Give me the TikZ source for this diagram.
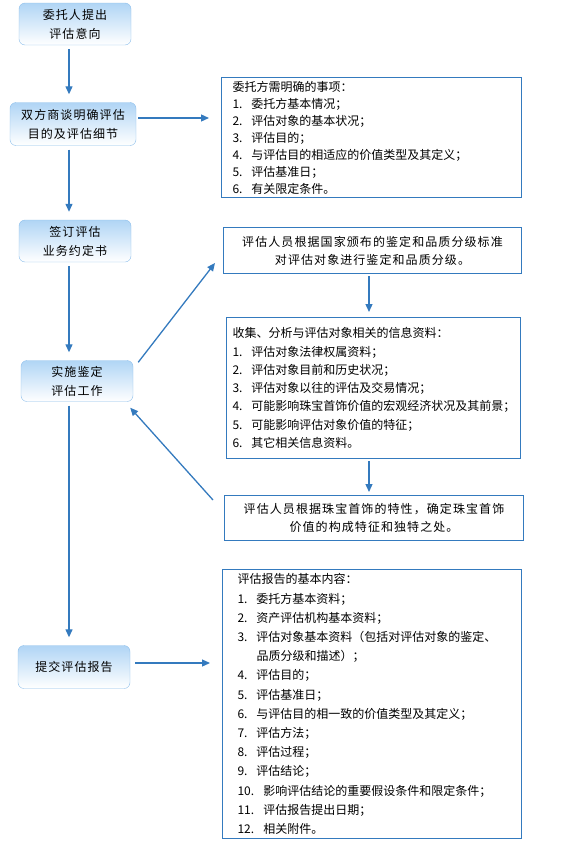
\documentclass[tikz,border=0pt]{standalone}
\usepackage{fontspec}
\setmainfont{Noto Sans CJK SC}
\newfontfamily\widecjk[LetterSpace=9]{Noto Sans CJK SC}
\usetikzlibrary{arrows.meta}

\definecolor{lineblue}{RGB}{52,122,190}
\definecolor{boxedge}{RGB}{140,190,235}
\definecolor{boxtop}{RGB}{176,213,245}

\newcommand{\itemno}[2][19pt]{\makebox[#1][l]{#2}}

\begin{document}
\begin{tikzpicture}[x=1pt, y=-1pt,
    flow/.style={draw=lineblue, line width=1.3pt, -{Triangle[length=8pt,width=7pt]}},
    stepbox/.style={draw=boxedge, rounded corners=6pt, top color=boxtop, bottom color=white,
        minimum width=112pt, minimum height=42pt, inner sep=0pt, align=center,
        font=\widecjk\fontsize{12}{19}\selectfont},
    listbox/.style={draw=lineblue, line width=1pt, anchor=north west, align=left, inner ysep=0pt},
    notebox/.style={draw=lineblue, line width=1pt, anchor=north west, align=center, inner sep=0pt,
        font=\widecjk\fontsize{12}{18}\selectfont}]
\useasboundingbox (0,0) rectangle (574,854);

% main steps
\node[stepbox] (intent) at (75,24) {委托人提出\\评估意向};
\node[stepbox, minimum width=126pt, minimum height=43pt] (talks) at (73,124) {双方商谈明确评估\\目的及评估细节};
\node[stepbox] (contract) at (75,241) {签订评估\\业务约定书};
\node[stepbox, minimum height=41pt] (work) at (77,381) {实施鉴定\\评估工作};
\node[stepbox, minimum height=43pt] (submit) at (74,667) {提交评估报告};

% notes on the right
\node[listbox, inner xsep=11pt, text width=278pt, minimum height=120pt,
      font=\fontsize{12}{17}\selectfont] (matters) at (221,77) {%
    委托方需明确的事项：\\
    \itemno{1.}委托方基本情况；\\
    \itemno{2.}评估对象的基本状况；\\
    \itemno{3.}评估目的；\\
    \itemno{4.}与评估目的相适应的价值类型及其定义；\\
    \itemno{5.}评估基准日；\\
    \itemno{6.}有关限定条件。};

\node[notebox, text width=298pt, minimum height=46pt] (grading) at (223,227) {%
    评估人员根据国家颁布的鉴定和品质分级标准\\对评估对象进行鉴定和品质分级。};

\node[listbox, inner xsep=6pt, text width=282pt, minimum height=141pt,
      font=\fontsize{12}{18.3}\selectfont] (collect) at (226,317) {%
    收集、分析与评估对象相关的信息资料：\\
    \itemno{1.}评估对象法律权属资料；\\
    \itemno{2.}评估对象目前和历史状况；\\
    \itemno{3.}评估对象以往的评估及交易情况；\\
    \itemno{4.}可能影响珠宝首饰价值的宏观经济状况及其前景；\\
    \itemno{5.}可能影响评估对象价值的特征；\\
    \itemno{6.}其它相关信息资料。};

\node[notebox, text width=299pt, minimum height=45pt] (traits) at (224,495) {%
    评估人员根据珠宝首饰的特性，确定珠宝首饰\\价值的构成特征和独特之处。};

\node[listbox, inner xsep=15pt, text width=269pt, minimum height=269pt,
      font=\fontsize{12}{19.2}\selectfont] (report) at (222,569) {%
    评估报告的基本内容：\\
    \itemno{1.}委托方基本资料；\\
    \itemno{2.}资产评估机构基本资料；\\
    \itemno{3.}评估对象基本资料（包括对评估对象的鉴定、\\
    \itemno{}品质分级和描述）；\\
    \itemno{4.}评估目的；\\
    \itemno{5.}评估基准日；\\
    \itemno{6.}与评估目的相一致的价值类型及其定义；\\
    \itemno{7.}评估方法；\\
    \itemno{8.}评估过程；\\
    \itemno{9.}评估结论；\\
    \itemno[26pt]{10.}影响评估结论的重要假设条件和限定条件；\\
    \itemno[26pt]{11.}评估报告提出日期；\\
    \itemno[26pt]{12.}相关附件。};

% connectors
\coordinate (axis) at (69,0);
\draw[flow, shorten <=4pt, shorten >=8pt] (intent.south -| axis) -- (talks.north -| axis);
\draw[flow, shorten <=4pt, shorten >=8pt] (talks.south -| axis) -- (contract.north -| axis);
\draw[flow, shorten <=4pt, shorten >=8pt] (contract.south -| axis) -- (work.north -| axis);
\draw[flow, shorten <=4pt, shorten >=8pt] (work.south -| axis) -- (submit.north -| axis);

\coordinate (row1) at (0,118);
\draw[flow, shorten <=2pt, shorten >=12pt] (talks.east |- row1) -- (matters.west |- row1);
\coordinate (row2) at (0,663);
\draw[flow, shorten <=5pt, shorten >=12pt] (submit.east |- row2) -- (report.west |- row2);

\draw[flow] ([xshift=5pt,yshift=-2pt]work.north east) -- ([xshift=-8pt,yshift=11pt]grading.south west);
\draw[flow, shorten <=2pt, shorten >=5pt] (grading.south -| 369,0) -- (collect.north -| 369,0);
\draw[flow, shorten <=2pt, shorten >=3pt] (collect.south -| 369,0) -- (traits.north -| 369,0);
\draw[flow] ([xshift=-11pt,yshift=-5pt]traits.north west) -- ([xshift=-3pt,yshift=-6pt]work.south east);
\end{tikzpicture}
\end{document}
